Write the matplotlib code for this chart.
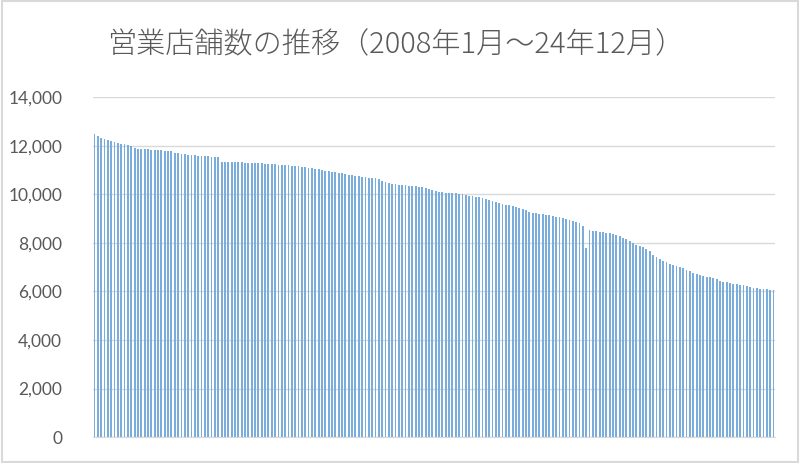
import numpy as np
import matplotlib.pyplot as plt
from matplotlib.ticker import FuncFormatter
from matplotlib.patches import Rectangle

plt.rcParams['font.family'] = ['Noto Sans CJK JP', 'DejaVu Sans']

# monthly store counts, 2008/1 - 2024/12
stores_2008 = [12470, 12400, 12330, 12270, 12220, 12180, 12150, 12120, 12090, 12060, 12030, 12000]
stores_2009 = [11900, 11880, 11870, 11860, 11850, 11840, 11830, 11820, 11810, 11800, 11790, 11780]
stores_2010 = [11700, 11690, 11680, 11660, 11640, 11620, 11600, 11590, 11580, 11570, 11560, 11550]
stores_2011 = [11540, 11530, 11350, 11340, 11340, 11330, 11330, 11320, 11320, 11310, 11300, 11300]
stores_2012 = [11290, 11280, 11270, 11260, 11250, 11240, 11230, 11220, 11210, 11200, 11190, 11180]
stores_2013 = [11170, 11160, 11140, 11120, 11100, 11080, 11060, 11040, 11010, 10980, 10960, 10940]
stores_2014 = [10910, 10880, 10860, 10840, 10810, 10790, 10760, 10740, 10720, 10700, 10690, 10680]
stores_2015 = [10670, 10650, 10540, 10500, 10460, 10440, 10420, 10400, 10390, 10380, 10360, 10350]
stores_2016 = [10340, 10320, 10290, 10250, 10200, 10160, 10120, 10090, 10080, 10070, 10060, 10050]
stores_2017 = [10040, 10030, 10010, 9980, 9950, 9920, 9900, 9880, 9850, 9810, 9760, 9720]
stores_2018 = [9680, 9650, 9610, 9580, 9540, 9510, 9470, 9440, 9400, 9340, 9280, 9250]
stores_2019 = [9220, 9200, 9180, 9160, 9140, 9110, 9080, 9050, 9020, 8990, 8960, 8920]
stores_2020 = [8870, 8800, 8700, 7780, 8520, 8500, 8480, 8460, 8440, 8420, 8400, 8370]
stores_2021 = [8330, 8280, 8220, 8150, 8060, 7980, 7930, 7880, 7830, 7760, 7660, 7500]
stores_2022 = [7400, 7330, 7260, 7200, 7150, 7100, 7050, 7000, 6950, 6890, 6830, 6770]
stores_2023 = [6720, 6680, 6640, 6610, 6580, 6550, 6500, 6450, 6400, 6370, 6340, 6310]
stores_2024 = [6290, 6270, 6250, 6220, 6190, 6160, 6140, 6120, 6100, 6080, 6060, 6050]

stores = (stores_2008 + stores_2009 + stores_2010 + stores_2011 + stores_2012 +
          stores_2013 + stores_2014 + stores_2015 + stores_2016 + stores_2017 +
          stores_2018 + stores_2019 + stores_2020 + stores_2021 + stores_2022 +
          stores_2023 + stores_2024)

title = '営業店舗数の推移（2008年1月～24年12月）'
yticks = [0, 2000, 4000, 6000, 8000, 10000, 12000, 14000]

fig = plt.figure(figsize=(8, 4.63), dpi=100)
fig.patches.append(Rectangle((0.003, 0.003), 0.994, 0.994, transform=fig.transFigure,
                             fill=False, edgecolor='#d9d9d9', linewidth=1.5))

ax = fig.add_axes([0.116, 0.056, 0.853, 0.734])
x = np.arange(len(stores))
ax.bar(x, stores, width=0.55, color='#7aaddb', zorder=2)

ax.set_xlim(-0.5, len(stores) - 0.5)
ax.set_ylim(0, 14000)
ax.set_yticks(yticks)
ax.yaxis.set_major_formatter(FuncFormatter(lambda v, p: f'{int(v):,}'))
ax.set_xticks([])
ax.grid(axis='y', color='#d9d9d9', linewidth=1, zorder=0)
ax.set_axisbelow(True)
for s in ['top', 'right', 'left']:
    ax.spines[s].set_visible(False)
ax.spines['bottom'].set_color('#d9d9d9')
ax.tick_params(axis='y', length=0, pad=22, labelsize=12.5, labelcolor='#595959')
for lbl in ax.get_yticklabels():
    lbl.set_family(['Lato', 'DejaVu Sans'])

fig.text(0.494, 0.903, title, ha='center', va='center', fontsize=21,
         color='#595959', fontweight='light')

fig.savefig('out.png', dpi=100)
